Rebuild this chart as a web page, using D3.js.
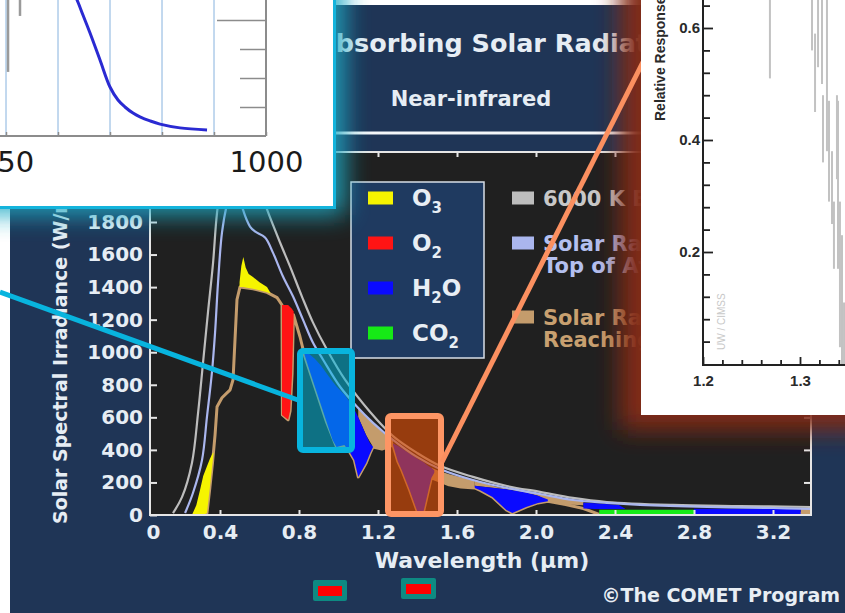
<!DOCTYPE html>
<html>
<head>
<meta charset="utf-8">
<script src="https://cdn.jsdelivr.net/npm/d3@7"></script>
<style>
  body { margin: 0; background: #fff; }
  svg { display: block; }
</style>
</head>
<body>
<svg width="845" height="613"></svg>
<script>
// ---- main chart data (wavelength in um, irradiance in W/m2/um) ----
const xTicks = [0, 0.4, 0.8, 1.2, 1.6, 2.0, 2.4, 2.8, 3.2];
const yTicks = [0, 200, 400, 600, 800, 1000, 1200, 1400, 1600, 1800];

// 6000 K blackbody
const bbWl  = [0.162, 0.208, 0.258, 0.289, 0.314, 0.339, 0.365, 0.385, 0.42, 0.46, 0.52, 0.58, 0.638, 0.704, 0.755, 0.815, 0.871, 0.942, 1.033, 1.159, 1.276, 1.397, 1.514, 1.681, 1.853, 2.02, 2.187, 2.359, 2.694, 3.033, 3.392];
const bbVal = [12, 111, 320, 628, 935, 1243, 1551, 1858, 2150, 2300, 2250, 2080, 1877, 1674, 1526, 1342, 1182, 1015, 831, 634, 485, 382, 302, 234, 178, 142, 105, 80, 62, 55, 49];

// solar radiation at top of atmosphere
const toaWl  = [0.223, 0.263, 0.309, 0.334, 0.359, 0.375, 0.39, 0.41, 0.435, 0.47, 0.5, 0.516, 0.552, 0.577, 0.628, 0.668, 0.719, 0.77, 0.82, 0.871, 0.922, 1.008, 1.094, 1.175, 1.276, 1.397, 1.514, 1.681, 1.853, 2.02, 2.187, 2.359, 2.527, 2.866, 3.2, 3.392];
const toaVal = [12, 135, 338, 603, 874, 1120, 1428, 1735, 1908, 2050, 1960, 1877, 1772, 1742, 1705, 1612, 1465, 1342, 1200, 1058, 954, 788, 665, 566, 462, 357, 283, 215, 166, 129, 92, 74, 62, 49, 43, 37];

// solar radiation reaching the surface
const sfcWl  = [0.3, 0.334, 0.349, 0.362, 0.375, 0.385, 0.41, 0.451, 0.466, 0.476, 0.486, 0.501, 0.567, 0.638, 0.689, 0.714, 0.716, 0.745, 0.755, 0.765, 0.772, 0.805, 0.83, 0.88, 0.94, 0.99, 1.03, 1.06, 1.08, 1.1, 1.12, 1.14, 1.16, 1.175, 1.22, 1.276, 1.3, 1.32, 1.36, 1.4, 1.43, 1.45, 1.47, 1.5, 1.56, 1.62, 1.69, 1.72, 1.78, 1.85, 1.88, 1.95, 2.01, 2.06, 2.15, 2.24, 2.32, 2.4, 3.3, 3.34, 3.39];
const sfcVal = [0, 12, 172, 320, 492, 665, 720, 769, 831, 1077, 1323, 1400, 1390, 1368, 1335, 1290, 615, 585, 640, 870, 1230, 1095, 972, 790, 570, 418, 430, 380, 338, 234, 277, 320, 380, 418, 405, 430, 330, 277, 154, 18, 18, 123, 228, 215, 185, 172, 166, 150, 110, 31, 12, 49, 74, 85, 65, 40, 4, 2, 2, 10, 12];

// absorption bands: [wavelength, lower, upper]
const o3Uv  = [[0.258, 0, 0], [0.28, 0, 60], [0.3, 0, 160], [0.315, 0, 240], [0.334, 12, 300], [0.349, 172, 345], [0.362, 320, 378], [0.368, 385, 385]];
const o3Vis = [[0.499, 1400, 1430], [0.508, 1400, 1530], [0.518, 1400, 1585], [0.53, 1398, 1520], [0.545, 1395, 1480], [0.567, 1390, 1462], [0.6, 1380, 1430], [0.638, 1368, 1400], [0.655, 1360, 1365]];
const o2A   = [[0.714, 615, 1290], [0.745, 585, 1290], [0.755, 640, 1278], [0.765, 870, 1265], [0.773, 1230, 1250]];
const h2o09 = [[0.828, 985, 990], [0.85, 900, 990], [0.88, 790, 960], [0.91, 680, 920], [0.94, 570, 870], [0.97, 460, 820], [0.99, 418, 790], [1.03, 430, 740], [1.06, 380, 690], [1.08, 338, 650], [1.1, 234, 600], [1.12, 277, 545], [1.14, 320, 490], [1.16, 380, 440], [1.175, 418, 420]];
const h2o14 = [[1.276, 430, 440], [1.3, 330, 425], [1.32, 277, 410], [1.36, 154, 378], [1.4, 18, 345], [1.43, 18, 325], [1.45, 123, 305], [1.47, 228, 290], [1.485, 260, 275]];
const h2o19 = [[1.69, 166, 180], [1.72, 150, 175], [1.78, 110, 168], [1.85, 31, 158], [1.88, 12, 152], [1.95, 49, 138], [2.01, 74, 118], [2.06, 85, 95]];
const h2o23 = [[2.24, 40, 75], [2.3, 37, 72], [2.42, 37, 62], [2.45, 37, 40]];
const h2o30 = [[2.8, 4, 38], [3.34, 4, 38]];
const co2Band = [[2.32, 0, 32], [2.8, 0, 32]];
const restA = [[1.1, 600, 655], [1.14, 490, 600], [1.175, 418, 566], [1.22, 405, 510], [1.276, 430, 462]];
const restB = [[1.47, 228, 290], [1.5, 215, 275], [1.56, 185, 250], [1.62, 172, 232], [1.69, 166, 212]];
const restC = [[1.69, 180, 212], [1.8, 165, 172], [1.9, 150, 155], [2.01, 118, 129], [2.06, 85, 120], [2.15, 65, 100], [2.24, 60, 85]];
const restD = [[3.34, 4, 40], [3.39, 4, 38]];

const gasLabels = [["O", "3", ""], ["O", "2", ""], ["H", "2", "O"], ["CO", "2", ""]];
const gasColors = ["#f6f400", "#ff1414", "#0a0aff", "#16ea16"];
const curveLabels = [["6000 K Blackbody"], ["Solar Radiation at", "Top of Atmosphere"], ["Solar Radiation", "Reaching Surface"]];
const curveColors = ["#bdbdbd", "#aab6ee", "#c49c6c"];
const textColors = ["#c8c8c8", "#b4c0f0", "#c8a070"];
const tanColor = "#c49c6c";

// ---- left zoom inset (filter response, nm) ----
const insetNmTicks = [750, 800, 850, 900, 950, 1000];
const insetNmLabels = [750, 1000];
const insetValTicks = [0.1, 0.2, 0.3, 0.4];
const filterNm  = [813.5, 818.3, 824.0, 830.8, 840.4, 850.0, 857.7, 864.4, 872.1, 878.8, 888.5, 898.1, 917.3, 943.3];
const filterVal = [0.503, 0.469, 0.417, 0.355, 0.262, 0.169, 0.124, 0.100, 0.079, 0.066, 0.052, 0.041, 0.028, 0.021];
const spikeNm = [751, 762.5];
const spikeTop = [0.5, 0.5];
const spikeBot = [0.221, 0.414];

// ---- right zoom inset (relative response near 1.38 um) ----
const respWl = [1.269, 1.3124, 1.3155, 1.3186, 1.3227, 1.3237, 1.3278, 1.3299, 1.333, 1.335, 1.3381, 1.3392, 1.3412, 1.3433, 1.3454];
const respHi = [0.70, 0.70, 0.59, 0.70, 0.70, 0.48, 0.70, 0.47, 0.38, 0.29, 0.48, 0.47, 0.29, 0.23, 0.11];
const respLo = [0.51, 0.56, 0.45, 0.53, 0.50, 0.36, 0.38, 0.29, 0.25, 0.17, 0.33, 0.17, 0.03, 0.0, 0.0];

const svg = d3.select('svg');
const FONT = "'DejaVu Sans', sans-serif";
const ARIAL = "'Liberation Sans', Arial, sans-serif";
const defs = svg.append('defs');

defs.append('clipPath').attr('id', 'plotClip')
  .append('rect').attr('x', 150).attr('y', 152).attr('width', 661).attr('height', 363);
defs.append('clipPath').attr('id', 'leftClip')
  .append('rect').attr('x', 0).attr('y', 0).attr('width', 334).attr('height', 207);
defs.append('clipPath').attr('id', 'rightClip')
  .append('rect').attr('x', 641).attr('y', 0).attr('width', 204).attr('height', 415);
// parts of the page that stay visible between the two insets
defs.append('clipPath').attr('id', 'midClip')
  .append('rect').attr('x', 336).attr('y', 0).attr('width', 305).attr('height', 613);
defs.append('filter').attr('id', 'glow').attr('x', '-50%').attr('y', '-50%').attr('width', '200%').attr('height', '200%')
  .append('feGaussianBlur').attr('stdDeviation', 12);

// background panel
svg.append('rect').attr('width', 845).attr('height', 613).attr('fill', '#fff');
svg.append('rect').attr('x', 10).attr('y', 5).attr('width', 835).attr('height', 608).attr('fill', '#1f3556');

// titles
svg.append('g').attr('clip-path', 'url(#midClip)')
  .append('text').attr('x', 316).attr('y', 52)
  .attr('font-family', FONT).attr('font-weight', 'bold').attr('font-size', 25.5).attr('fill', '#e6edf4')
  .text('Absorbing Solar Radiation');
svg.append('text').attr('x', 471).attr('y', 106).attr('text-anchor', 'middle')
  .attr('font-family', FONT).attr('font-weight', 'bold').attr('font-size', 21).attr('fill', '#e6edf4')
  .text('Near-infrared');
svg.append('line').attr('x1', 300).attr('x2', 660).attr('y1', 133).attr('y2', 133)
  .attr('stroke', '#f4f6f8').attr('stroke-width', 3);

// scales
const x = d3.scaleLinear().domain([0, 3.4]).range([141, 812.5]);
const y = d3.scaleLinear().domain([0, 2230]).range([515, 152]);

svg.append('rect').attr('x', 150).attr('y', 152).attr('width', 661).attr('height', 363).attr('fill', '#202020');

const plot = svg.append('g').attr('clip-path', 'url(#plotClip)');
const line = d3.line().x(d => x(d[0])).y(d => y(d[1]));
const area = d3.area().x(d => x(d[0])).y0(d => y(d[1])).y1(d => y(d[2]));
const zip = (a, b) => a.map((v, i) => [v, b[i]]);

// surface curve first, bands on top of it
plot.append('path').datum(zip(sfcWl, sfcVal)).attr('d', line)
  .attr('fill', 'none').attr('stroke', tanColor).attr('stroke-width', 3).attr('stroke-linejoin', 'round');

const bands = [
  [restA, tanColor], [restB, tanColor], [restC, tanColor], [restD, tanColor],
  [o3Uv, gasColors[0]], [o3Vis, gasColors[0]], [o2A, gasColors[1]],
  [h2o09, gasColors[2]], [h2o14, gasColors[2]], [h2o19, gasColors[2]], [h2o23, gasColors[2]], [h2o30, gasColors[2]],
  [co2Band, gasColors[3]]
];
plot.selectAll('path.band').data(bands).enter().append('path')
  .attr('class', 'band')
  .attr('d', d => area(d[0]))
  .attr('fill', d => d[1]);

plot.append('path').datum(zip(bbWl, bbVal)).attr('d', line.curve(d3.curveCatmullRom))
  .attr('fill', 'none').attr('stroke', curveColors[0]).attr('stroke-width', 2.2);
plot.append('path').datum(zip(toaWl, toaVal)).attr('d', line.curve(d3.curveCatmullRom))
  .attr('fill', 'none').attr('stroke', curveColors[1]).attr('stroke-width', 2.2);

// axes (ticks inside the frame on all four sides)
function styleAxis(g) {
  g.select('.domain').remove();
  g.selectAll('line').attr('stroke', '#e6e6e6').attr('stroke-width', 2);
  g.selectAll('text').attr('font-family', FONT).attr('font-weight', 'bold').attr('font-size', 20).attr('fill', '#e6edf4');
}
const gx = svg.append('g').attr('transform', 'translate(0,515)')
  .call(d3.axisBottom(x).tickValues(xTicks).tickSizeInner(-5).tickSizeOuter(0).tickPadding(10)
    .tickFormat(d => d === 0 ? '0' : d3.format('.1f')(d)))
  .call(styleAxis);
gx.selectAll('.tick').filter(d => d === 0).each(function () {
  d3.select(this).select('line').remove();
  d3.select(this).select('text').attr('x', 12);
});
svg.append('g').attr('transform', 'translate(0,152)')
  .call(d3.axisTop(x).tickValues(xTicks.slice(1)).tickSizeInner(-5).tickSizeOuter(0).tickFormat(''))
  .call(styleAxis);
svg.append('g').attr('transform', 'translate(150,0)')
  .call(d3.axisLeft(y).tickValues(yTicks).tickSizeInner(-7).tickSizeOuter(0).tickPadding(7).tickFormat(d3.format('d')))
  .call(styleAxis);
svg.append('g').attr('transform', 'translate(811,0)')
  .call(d3.axisRight(y).tickValues(yTicks.slice(1)).tickSizeInner(-7).tickSizeOuter(0).tickFormat(''))
  .call(styleAxis);
svg.append('rect').attr('x', 150).attr('y', 152).attr('width', 661).attr('height', 363)
  .attr('fill', 'none').attr('stroke', '#e6e6e6').attr('stroke-width', 2);

svg.append('text').attr('x', 482).attr('y', 568).attr('text-anchor', 'middle')
  .attr('font-family', FONT).attr('font-weight', 'bold').attr('font-size', 22).attr('fill', '#e6edf4')
  .text('Wavelength (µm)');
svg.append('text').attr('transform', 'translate(67,524) rotate(-90)')
  .attr('font-family', FONT).attr('font-weight', 'bold').attr('font-size', 19).attr('fill', '#e6edf4')
  .text('Solar Spectral Irradiance (W/m²/µm)');

// gas legend
svg.append('rect').attr('x', 351).attr('y', 182).attr('width', 133).attr('height', 176)
  .attr('fill', '#1f3a60').attr('stroke', '#d8dee6').attr('stroke-width', 1.5);
const gasItem = svg.selectAll('g.gas').data(gasLabels).enter().append('g')
  .attr('class', 'gas').attr('transform', (d, i) => `translate(0,${198 + i * 45})`);
gasItem.append('rect').attr('x', 368).attr('y', -6.5).attr('width', 25).attr('height', 13)
  .attr('fill', (d, i) => gasColors[i]);
const gt = gasItem.append('text').attr('x', 412).attr('y', 8)
  .attr('font-family', FONT).attr('font-weight', 'bold').attr('font-size', 23).attr('fill', '#e8eef4');
gt.append('tspan').text(d => d[0]);
gt.append('tspan').attr('font-size', 15).attr('dy', 7).text(d => d[1]);
gt.append('tspan').attr('dy', -7).text(d => d[2]);

// curve legend (runs in under the right inset)
const curveLegend = svg.append('g').attr('clip-path', 'url(#midClip)');
const curveItem = curveLegend.selectAll('g.curve').data(curveLabels).enter().append('g')
  .attr('class', 'curve').attr('transform', (d, i) => `translate(0,${[198, 243, 317][i]})`);
curveItem.append('rect').attr('x', 512).attr('y', -6.5).attr('width', 22).attr('height', 13)
  .attr('fill', (d, i) => curveColors[i]);
curveItem.each(function (d, i) {
  const t = d3.select(this).append('text').attr('x', 543).attr('y', 7.5)
    .attr('font-family', FONT).attr('font-weight', 'bold').attr('font-size', 21).attr('fill', textColors[i]);
  d.forEach((s, j) => t.append('tspan').attr('x', 543).attr('dy', j ? 22 : 0).text(s));
});

// glows behind the two zoom insets
svg.append('rect').attr('x', -30).attr('y', -30).attr('width', 375).attr('height', 245)
  .attr('fill', '#1faac4').attr('opacity', 0.9).attr('filter', 'url(#glow)');
svg.append('rect').attr('x', 620).attr('y', -30).attr('width', 260).attr('height', 460)
  .attr('fill', '#822c18').attr('filter', 'url(#glow)');

// highlight boxes
svg.append('rect').attr('x', 300).attr('y', 351).attr('width', 52).attr('height', 99).attr('rx', 3)
  .attr('fill', 'rgba(0,180,215,0.55)').attr('stroke', '#08b4de').attr('stroke-width', 6);
svg.append('rect').attr('x', 388).attr('y', 416).attr('width', 53).attr('height', 98).attr('rx', 3)
  .attr('fill', 'rgba(215,75,5,0.65)').attr('stroke', '#fd9564').attr('stroke-width', 6);
svg.append('line').attr('x1', 0).attr('y1', 292).attr('x2', 298).attr('y2', 400)
  .attr('stroke', '#08b4de').attr('stroke-width', 5);
svg.append('line').attr('x1', 442).attr('y1', 462).attr('x2', 643).attr('y2', 62)
  .attr('stroke', '#fb9060').attr('stroke-width', 5);

// ---- left inset ----
const li = svg.append('g');
li.append('rect').attr('x', 0).attr('y', 0).attr('width', 334).attr('height', 207).attr('fill', '#fff');
const lc = li.append('g').attr('clip-path', 'url(#leftClip)');
const xl = d3.scaleLinear().domain([750, 1000]).range([6, 266]);
const yl = d3.scaleLinear().domain([0, 0.4]).range([136, 20]);
lc.selectAll('line.grid').data(insetNmTicks.slice(0, -1)).enter().append('line')
  .attr('x1', d => xl(d)).attr('x2', d => xl(d)).attr('y1', 0).attr('y2', 136)
  .attr('stroke', '#86b2de').attr('stroke-width', 1);
lc.selectAll('line.spike').data(spikeNm).enter().append('line')
  .attr('x1', d => xl(d) + 1).attr('x2', d => xl(d) + 1)
  .attr('y1', (d, i) => yl(spikeTop[i])).attr('y2', (d, i) => yl(spikeBot[i]))
  .attr('stroke', '#9a9a9a').attr('stroke-width', 2.5);
const lx = lc.append('g').attr('transform', 'translate(0,136)')
  .call(d3.axisBottom(xl).tickValues(insetNmTicks).tickSizeInner(-4).tickSizeOuter(0).tickPadding(15)
    .tickFormat(d => insetNmLabels.includes(d) ? d : ''));
lx.select('.domain').remove();
lx.selectAll('line').attr('stroke', '#8c8c8c').attr('stroke-width', 1.5);
lx.selectAll('text').attr('font-family', FONT).attr('font-size', 29).attr('fill', '#1a1a1a');
lc.append('line').attr('x1', 0).attr('x2', 266).attr('y1', 136).attr('y2', 136).attr('stroke', '#8c8c8c').attr('stroke-width', 2);
lc.append('line').attr('x1', 266).attr('x2', 266).attr('y1', 0).attr('y2', 136).attr('stroke', '#8c8c8c').attr('stroke-width', 2);
const ly = lc.append('g').attr('transform', 'translate(266,0)')
  .call(d3.axisLeft(yl).tickValues(insetValTicks).tickSize(26).tickFormat(''));
ly.select('.domain').remove();
ly.selectAll('line').attr('stroke', '#8c8c8c').attr('stroke-width', 1.5)
  .filter(d => d === 0.4).attr('x2', -49);
lc.append('path').datum(zip(filterNm, filterVal))
  .attr('d', d3.line().x(d => xl(d[0])).y(d => yl(d[1])).curve(d3.curveCatmullRom))
  .attr('fill', 'none').attr('stroke', '#2a2ad2').attr('stroke-width', 3);
li.append('line').attr('x1', 334.5).attr('x2', 334.5).attr('y1', 0).attr('y2', 209).attr('stroke', '#14b4dc').attr('stroke-width', 3);
li.append('line').attr('x1', 0).attr('x2', 336).attr('y1', 207.5).attr('y2', 207.5).attr('stroke', '#14b4dc').attr('stroke-width', 3);

// ---- right inset ----
const ri = svg.append('g');
ri.append('rect').attr('x', 641).attr('y', 0).attr('width', 204).attr('height', 415).attr('fill', '#fff');
const rc = ri.append('g').attr('clip-path', 'url(#rightClip)');
const xr = d3.scaleLinear().domain([1.2, 1.3]).range([703, 800]);
const yr = d3.scaleLinear().domain([0, 0.6]).range([364, 28]);
rc.selectAll('line.resp').data(respWl).enter().append('line')
  .attr('x1', d => xr(d)).attr('x2', d => xr(d))
  .attr('y1', (d, i) => yr(respHi[i])).attr('y2', (d, i) => yr(respLo[i]))
  .attr('stroke', '#c2c2c2').attr('stroke-width', 2);
const isMajor = (d, list) => list.some(v => Math.abs(v - d) < 1e-6);
const ryAxis = rc.append('g').attr('transform', 'translate(703,0)')
  .call(d3.axisLeft(yr).tickValues(d3.range(1, 17).map(i => i * 0.04)).tickSizeInner(-7).tickSizeOuter(0).tickPadding(3)
    .tickFormat(d => isMajor(d, [0.2, 0.4, 0.6]) ? d3.format('.1f')(d) : ''));
ryAxis.select('.domain').remove();
ryAxis.selectAll('line').attr('stroke', '#222').attr('stroke-width', 1.8)
  .filter(d => isMajor(d, [0.2, 0.4, 0.6])).attr('x2', 10);
ryAxis.selectAll('.tick').filter(d => !isMajor(d, [0.2, 0.4, 0.6])).select('text').remove();
const rxAxis = rc.append('g').attr('transform', 'translate(0,365)')
  .call(d3.axisBottom(xr).tickValues(d3.range(0, 8).map(i => 1.2 + i * 0.02)).tickSizeInner(-5).tickSizeOuter(0).tickPadding(10)
    .tickFormat(d => isMajor(d, [1.2, 1.3]) ? d3.format('.1f')(d) : ''));
rxAxis.select('.domain').remove();
rxAxis.selectAll('line').attr('stroke', '#222').attr('stroke-width', 1.8)
  .filter(d => isMajor(d, [1.2, 1.3])).attr('y2', -8);
rxAxis.selectAll('.tick').filter(d => !isMajor(d, [1.2, 1.3])).select('text').remove();
rc.selectAll('.tick text').attr('font-family', ARIAL).attr('font-weight', 'bold')
  .attr('font-size', 15).attr('fill', '#2a2a2a');
rc.append('line').attr('x1', 703).attr('x2', 703).attr('y1', 0).attr('y2', 366).attr('stroke', '#222').attr('stroke-width', 2);
rc.append('line').attr('x1', 702).attr('x2', 845).attr('y1', 365).attr('y2', 365).attr('stroke', '#222').attr('stroke-width', 2);
rc.append('text').attr('transform', 'translate(665,121) rotate(-90)')
  .attr('font-family', ARIAL).attr('font-weight', 'bold').attr('font-size', 14).attr('fill', '#2a2a2a')
  .text('Relative Response');
rc.append('text').attr('transform', 'translate(725,350) rotate(-90)')
  .attr('font-family', ARIAL).attr('font-size', 10).attr('fill', '#c8c8c8')
  .text('UW / CIMSS');

// navigation buttons and credit
[[313, 580, 34, 21], [401, 578, 35, 21]].forEach(b => {
  svg.append('rect').attr('x', b[0]).attr('y', b[1]).attr('width', b[2]).attr('height', b[3]).attr('rx', 2).attr('fill', '#0e8a82');
  svg.append('rect').attr('x', b[0] + 5).attr('y', b[1] + 6).attr('width', b[2] - 10).attr('height', b[3] - 11).attr('fill', '#ff0000');
});
svg.append('text').attr('x', 840).attr('y', 602).attr('text-anchor', 'end')
  .attr('font-family', FONT).attr('font-weight', 'bold').attr('font-size', 19).attr('fill', '#e8eef4')
  .text('©The COMET Program');
</script>
</body>
</html>
